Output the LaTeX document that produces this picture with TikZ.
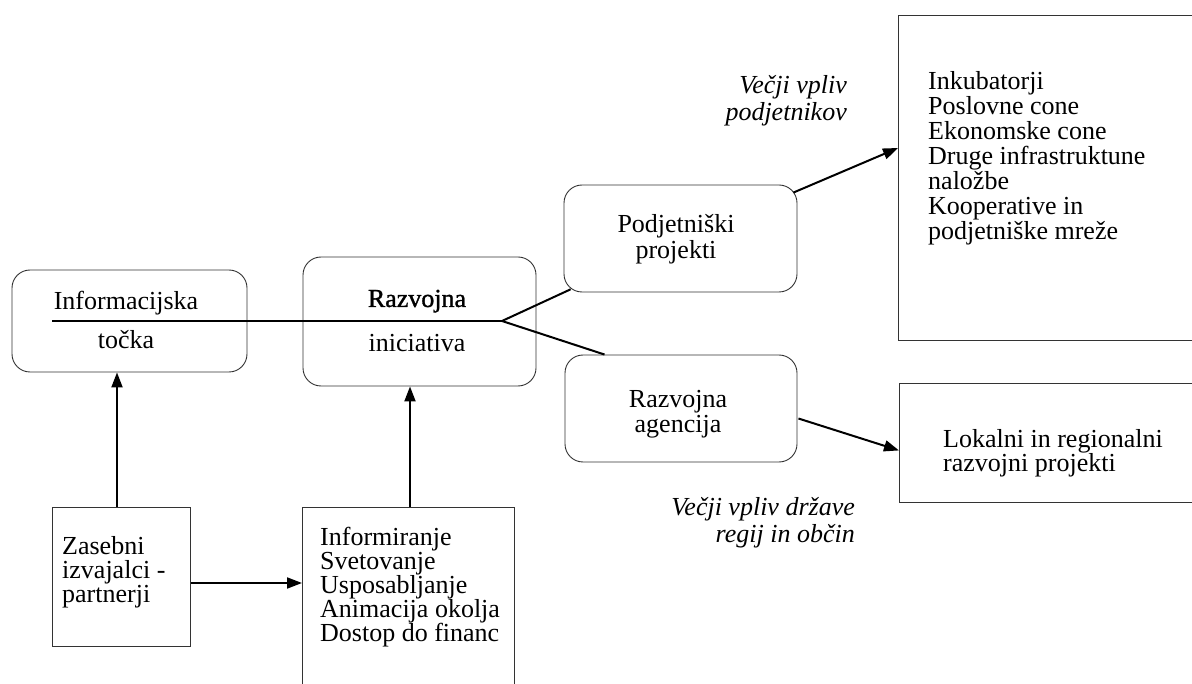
\documentclass[tikz,border=0pt]{standalone}
\usepackage{fontspec}
\setmainfont{Liberation Serif}
\newfontfamily\heavyserif[FakeBold=1.2]{Liberation Serif}
\usetikzlibrary{arrows.meta,calc}

\begin{document}
\begin{tikzpicture}[x=1pt,y=-1pt,
  txt/.style={font=\fontsize{26}{24}\selectfont, inner sep=0pt, align=left},
  lbl/.style={font=\fontsize{26}{27}\selectfont\itshape, inner sep=0pt, align=right},
  rbox/.style={draw=black!80, line width=0.9pt, rounded corners=18pt, inner sep=0pt},
  sbox/.style={draw=black!80, line width=0.9pt, inner sep=0pt},
  conn/.style={line width=2pt},
  arr/.style={conn, -{Triangle[length=15pt,width=11pt]}},
]
\useasboundingbox (0,0) rectangle (1192,684);
\clip (0,0) rectangle (1192,684);

% rounded boxes
\node[rbox, minimum width=235pt, minimum height=102pt] (info) at (129.5,321) {};
\node[rbox, minimum width=233pt, minimum height=129pt] (razv) at (419.5,321.5) {};
\node[rbox, minimum width=233pt, minimum height=107pt] (podj) at (680.5,238.5) {};
\node[rbox, minimum width=232pt, minimum height=107pt] (agen) at (681,408.5) {};

% square boxes
\node[sbox, minimum width=340pt, minimum height=325pt, anchor=north west] (big) at (898,15) {};
\node[sbox, minimum width=320pt, minimum height=119pt, anchor=north west] (lok) at (899,383) {};
\node[sbox, minimum width=138pt, minimum height=139pt, anchor=north west] (zas) at (52,507) {};
\node[sbox, minimum width=212pt, minimum height=200pt, anchor=north west] (inf) at (302,507) {};

% labels inside the boxes
\node[txt, anchor=base] (tinfo1) at (126,310) {Informacijska};
\node[txt, anchor=base] (tinfo2) at (126,349) {točka};
\node[txt, anchor=base, font=\fontsize{26}{24}\heavyserif] (trazv1) at (417,307) {Razvojna};
\node[txt, anchor=base] (trazv2) at (417,352) {iniciativa};
\node[txt, align=center, anchor=north, font=\fontsize{26}{26}\selectfont] (tpodj) at (676,214) {Podjetniški\\projekti};
\node[txt, align=center, anchor=north, font=\fontsize{26}{25}\selectfont] (tagen) at (678,390) {Razvojna\\agencija};
\node[txt, anchor=north west, font=\fontsize{26}{25}\selectfont] (tbig) at (928,71)
  {Inkubatorji\\Poslovne cone\\Ekonomske cone\\Druge infrastruktune\\naložbe\\Kooperative in\\podjetniške mreže};
\node[txt, anchor=north west] (tlok) at (943,429) {Lokalni in regionalni\\razvojni projekti};
\node[txt, anchor=north west] (tzas) at (62,536) {Zasebni\\izvajalci -\\partnerji};
\node[txt, anchor=north west] (tinf) at (320,527)
  {Informiranje\\Svetovanje\\Usposabljanje\\Animacija okolja\\Dostop do financ};

% italic side notes
\node[lbl, anchor=north east] (note1) at (847,75) {Večji vpliv\\podjetnikov};
\node[lbl, anchor=north east] (note2) at (855,497) {Večji vpliv države\\regij in občin};

% connectors
\coordinate (start) at (52,321);
\coordinate (fork) at (502,321);
\coordinate (colA) at (117,0);
\coordinate (colB) at (410,0);
\coordinate (rowC) at (0,583);
\draw[conn] (start) -- (fork);
\draw[conn, shorten >=-7.5pt] (fork) -- (podj);
\draw[conn] (fork) -- ($(agen.north west)+(40,0)$);
\draw[arr] ($(podj.north east)+(-4,8)$) -- ($(big.north west)+(0,133)$);
\draw[arr] ($(agen.east)+(1,10)$) -- ($(lok.west)+(0,7.5)$);
\draw[arr] (zas.north -| colA) -- (info.south -| colA);
\draw[arr] (inf.north -| colB) -- (razv.south -| colB);
\draw[arr] (zas.east |- rowC) -- (inf.west |- rowC);
\end{tikzpicture}
\end{document}
